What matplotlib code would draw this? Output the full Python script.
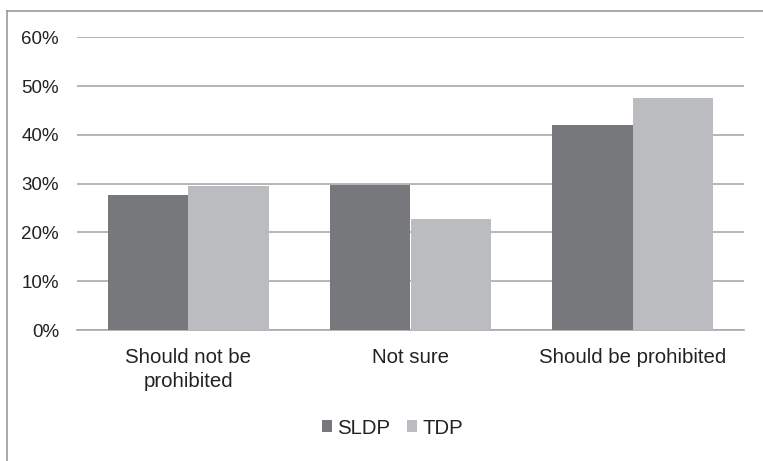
import matplotlib
matplotlib.use("Agg")
import matplotlib.pyplot as plt
from matplotlib.patches import Patch
from matplotlib.lines import Line2D
import numpy as np

categories = ["Should not be\nprohibited", "Not sure", "Should be prohibited"]
series_names = ["SLDP", "TDP"]
sldp = [27.6, 29.8, 42.1]
tdp = [29.5, 22.7, 47.5]
y_ticks = [0, 10, 20, 30, 40, 50, 60]
y_tick_labels = ["0%", "10%", "20%", "30%", "40%", "50%", "60%"]

colors = ["#77787b", "#bbbcbf"]
grid_color = "#a9a9a9"
text_color = "#222222"

plt.rcParams["font.family"] = ["Liberation Sans", "DejaVu Sans"]

W, H = 763, 461
fig = plt.figure(figsize=(W / 100, H / 100), dpi=100)
ax = fig.add_axes([77 / W, 1 - 330 / H, (744 - 77) / W, (330 - 37.3) / H])

x = np.arange(len(categories))
bw = 0.362
ax.bar(x - bw / 2, sldp, width=bw, color=colors[0], zorder=3)
ax.bar(x + bw / 2, tdp, width=bw, color=colors[1], zorder=3)

ax.set_xlim(-0.5, len(categories) - 0.5)
ax.set_ylim(0, 60)
ax.set_yticks(y_ticks)
ax.set_yticklabels(y_tick_labels)
ax.set_xticks(x)
ax.set_xticklabels(categories, linespacing=1.3)

ax.yaxis.grid(True, color=grid_color, linewidth=1.2, zorder=0)
ax.set_axisbelow(True)
for s in ["top", "right", "left"]:
    ax.spines[s].set_visible(False)
ax.spines["bottom"].set_color(grid_color)
ax.spines["bottom"].set_linewidth(1.2)

ax.tick_params(axis="y", length=0, pad=13, labelsize=13.5, labelcolor=text_color)
ax.tick_params(axis="x", length=0, pad=13, labelsize=14.7, labelcolor=text_color)

handles = [Patch(facecolor=c, edgecolor="none") for c in colors]
fig.legend(handles, series_names, loc="center",
           bbox_to_anchor=(392.5 / W, 1 - 428 / H), ncol=2, frameon=False,
           fontsize=14.7, handlelength=0.5, handleheight=0.5,
           handletextpad=0.25, columnspacing=0.8, labelcolor=text_color)

# outer frame (top and left edges)
fig.add_artist(Line2D([7 / W, 7 / W], [0, 1 - 11 / H], transform=fig.transFigure,
                      color="#999999", linewidth=1.2))
fig.add_artist(Line2D([7 / W, 1], [1 - 11 / H, 1 - 11 / H], transform=fig.transFigure,
                      color="#999999", linewidth=1.2))

fig.savefig("out.png", dpi=100)
